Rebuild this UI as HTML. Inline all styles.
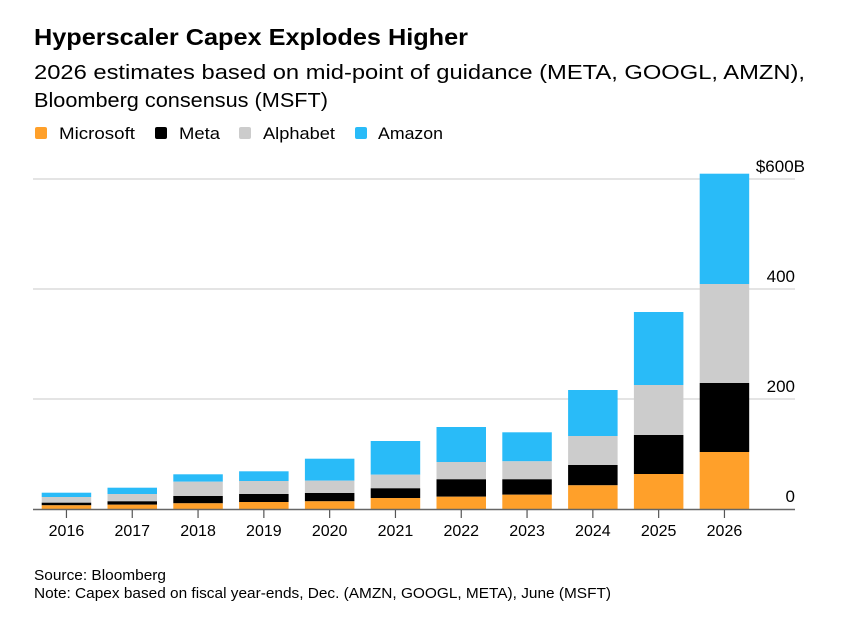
<!DOCTYPE html>
<html><head><meta charset="utf-8"><style>
html,body{margin:0;padding:0;background:#fff;}
svg{display:block;font-family:"Liberation Sans",Arial,sans-serif;}
</style></head><body>
<svg width="850" height="624" viewBox="0 0 850 624" xmlns="http://www.w3.org/2000/svg">
<text x="34" y="45" font-size="23" font-weight="bold" fill="#000" textLength="434" lengthAdjust="spacingAndGlyphs">Hyperscaler Capex Explodes Higher</text>
<text x="34" y="79" font-size="20" fill="#000" textLength="771" lengthAdjust="spacingAndGlyphs">2026 estimates based on mid-point of guidance (META, GOOGL, AMZN),</text>
<text x="34" y="107" font-size="20" fill="#000" textLength="294" lengthAdjust="spacingAndGlyphs">Bloomberg consensus (MSFT)</text>
<g font-size="17" fill="#000">
<rect x="35" y="127" width="12" height="12" rx="2" fill="#ffa02a"/><text x="59" y="139" textLength="76" lengthAdjust="spacingAndGlyphs">Microsoft</text>
<rect x="155" y="127" width="12" height="12" rx="2" fill="#000"/><text x="179" y="139" textLength="41" lengthAdjust="spacingAndGlyphs">Meta</text>
<rect x="239" y="127" width="12" height="12" rx="2" fill="#cccccc"/><text x="263" y="139" textLength="72" lengthAdjust="spacingAndGlyphs">Alphabet</text>
<rect x="355" y="127" width="12" height="12" rx="2" fill="#29bbf8"/><text x="378" y="139" textLength="65" lengthAdjust="spacingAndGlyphs">Amazon</text>
</g>
<g stroke="#d4d4d4" stroke-width="1.3">
<line x1="33" y1="179" x2="795" y2="179"/>
<line x1="33" y1="289" x2="795" y2="289"/>
<line x1="33" y1="399" x2="795" y2="399"/>
</g>
<g font-size="17" fill="#000" text-anchor="end">
<text x="805" y="172">$600B</text>
<text x="795" y="282">400</text>
<text x="795" y="392">200</text>
<text x="795" y="502">0</text>
</g>
<g>
<rect x="41.7" y="492.7" width="49.5" height="4.3" fill="#29bbf8"/><rect x="41.7" y="497" width="49.5" height="5.7" fill="#cccccc"/><rect x="41.7" y="502.7" width="49.5" height="2.6" fill="#000"/><rect x="41.7" y="505.3" width="49.5" height="4.2" fill="#ffa02a"/>
<rect x="107.5" y="487.7" width="49.5" height="6.3" fill="#29bbf8"/><rect x="107.5" y="494" width="49.5" height="7.3" fill="#cccccc"/><rect x="107.5" y="501.3" width="49.5" height="3.4" fill="#000"/><rect x="107.5" y="504.7" width="49.5" height="4.8" fill="#ffa02a"/>
<rect x="173.3" y="474.3" width="49.5" height="7.4" fill="#29bbf8"/><rect x="173.3" y="481.7" width="49.5" height="14.3" fill="#cccccc"/><rect x="173.3" y="496" width="49.5" height="7.3" fill="#000"/><rect x="173.3" y="503.3" width="49.5" height="6.2" fill="#ffa02a"/>
<rect x="239.1" y="471.3" width="49.5" height="9.7" fill="#29bbf8"/><rect x="239.1" y="481" width="49.5" height="13" fill="#cccccc"/><rect x="239.1" y="494" width="49.5" height="8" fill="#000"/><rect x="239.1" y="502" width="49.5" height="7.5" fill="#ffa02a"/>
<rect x="304.9" y="458.7" width="49.5" height="22" fill="#29bbf8"/><rect x="304.9" y="480.7" width="49.5" height="12.3" fill="#cccccc"/><rect x="304.9" y="493" width="49.5" height="8.3" fill="#000"/><rect x="304.9" y="501.3" width="49.5" height="8.2" fill="#ffa02a"/>
<rect x="370.7" y="441" width="49.5" height="33.7" fill="#29bbf8"/><rect x="370.7" y="474.7" width="49.5" height="13.6" fill="#cccccc"/><rect x="370.7" y="488.3" width="49.5" height="9.7" fill="#000"/><rect x="370.7" y="498" width="49.5" height="11.5" fill="#ffa02a"/>
<rect x="436.5" y="427" width="49.5" height="35" fill="#29bbf8"/><rect x="436.5" y="462" width="49.5" height="17.3" fill="#cccccc"/><rect x="436.5" y="479.3" width="49.5" height="17.4" fill="#000"/><rect x="436.5" y="496.7" width="49.5" height="12.8" fill="#ffa02a"/>
<rect x="502.3" y="432.3" width="49.5" height="29" fill="#29bbf8"/><rect x="502.3" y="461.3" width="49.5" height="18" fill="#cccccc"/><rect x="502.3" y="479.3" width="49.5" height="15.4" fill="#000"/><rect x="502.3" y="494.7" width="49.5" height="14.8" fill="#ffa02a"/>
<rect x="568.1" y="390" width="49.5" height="46" fill="#29bbf8"/><rect x="568.1" y="436" width="49.5" height="29" fill="#cccccc"/><rect x="568.1" y="465" width="49.5" height="20.3" fill="#000"/><rect x="568.1" y="485.3" width="49.5" height="24.2" fill="#ffa02a"/>
<rect x="633.9" y="312" width="49.5" height="73" fill="#29bbf8"/><rect x="633.9" y="385" width="49.5" height="50" fill="#cccccc"/><rect x="633.9" y="435" width="49.5" height="39" fill="#000"/><rect x="633.9" y="474" width="49.5" height="35.5" fill="#ffa02a"/>
<rect x="699.7" y="173.7" width="49.5" height="110.3" fill="#29bbf8"/><rect x="699.7" y="284" width="49.5" height="99" fill="#cccccc"/><rect x="699.7" y="383" width="49.5" height="69" fill="#000"/><rect x="699.7" y="452" width="49.5" height="57.5" fill="#ffa02a"/>
</g>
<line x1="33" y1="509.5" x2="795" y2="509.5" stroke="#666" stroke-width="1.5"/>
<g stroke="#555" stroke-width="1.2">
<line x1="66.45" y1="510" x2="66.45" y2="518"/><line x1="132.25" y1="510" x2="132.25" y2="518"/><line x1="198.05" y1="510" x2="198.05" y2="518"/><line x1="263.85" y1="510" x2="263.85" y2="518"/><line x1="329.65" y1="510" x2="329.65" y2="518"/><line x1="395.45" y1="510" x2="395.45" y2="518"/><line x1="461.25" y1="510" x2="461.25" y2="518"/><line x1="527.05" y1="510" x2="527.05" y2="518"/><line x1="592.85" y1="510" x2="592.85" y2="518"/><line x1="658.65" y1="510" x2="658.65" y2="518"/><line x1="724.45" y1="510" x2="724.45" y2="518"/>
</g>
<g font-size="16" fill="#000" text-anchor="middle">
<text x="66.45" y="536">2016</text><text x="132.25" y="536">2017</text><text x="198.05" y="536">2018</text><text x="263.85" y="536">2019</text><text x="329.65" y="536">2020</text><text x="395.45" y="536">2021</text><text x="461.25" y="536">2022</text><text x="527.05" y="536">2023</text><text x="592.85" y="536">2024</text><text x="658.65" y="536">2025</text><text x="724.45" y="536">2026</text>
</g>
<text x="34" y="580" font-size="15" fill="#000" textLength="132" lengthAdjust="spacingAndGlyphs">Source: Bloomberg</text>
<text x="34" y="598" font-size="15" fill="#000" textLength="577" lengthAdjust="spacingAndGlyphs">Note: Capex based on fiscal year-ends, Dec. (AMZN, GOOGL, META), June (MSFT)</text>
</svg>
</body></html>
